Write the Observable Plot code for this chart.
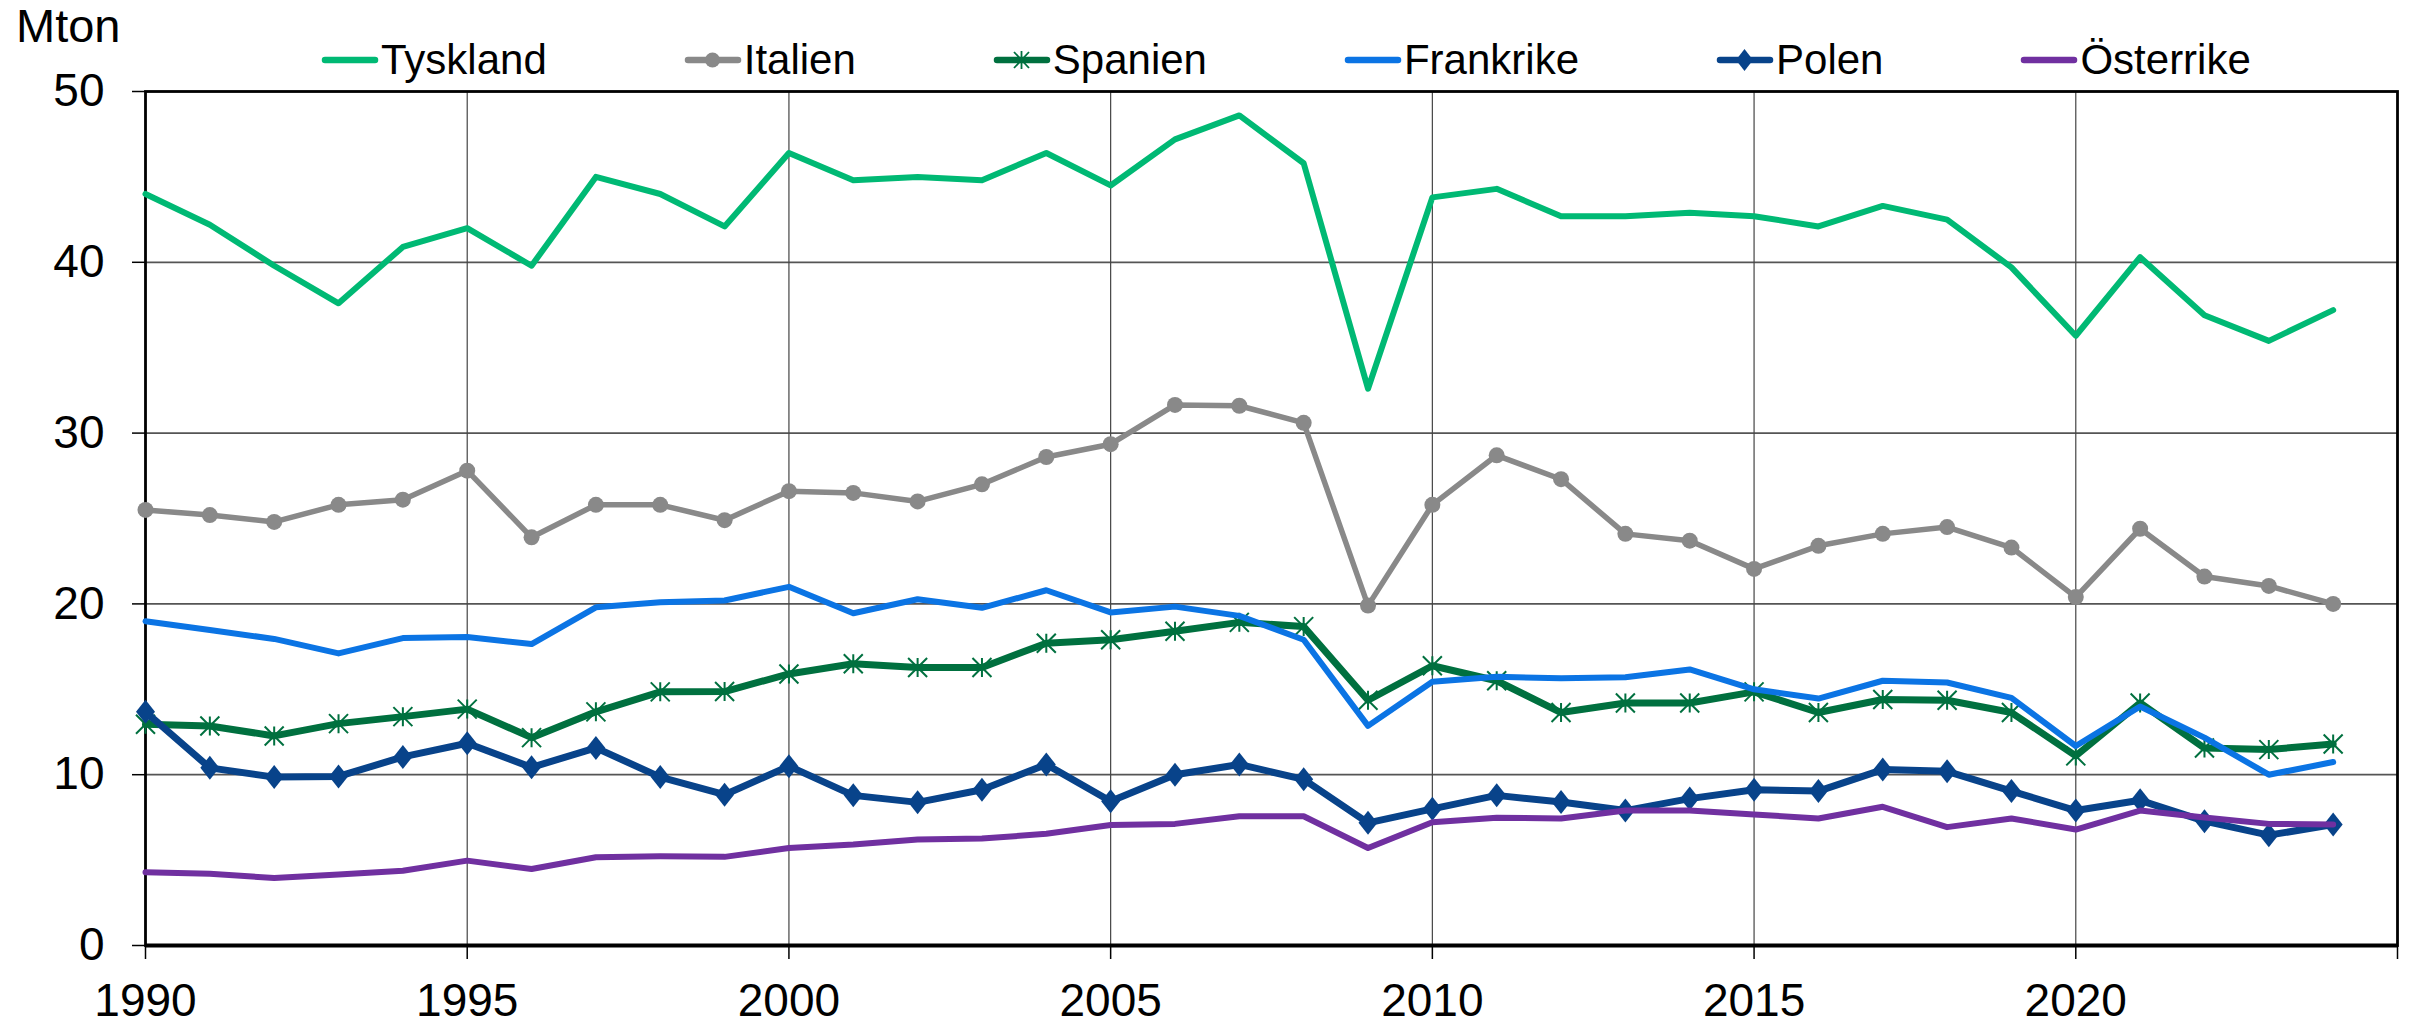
<!DOCTYPE html>
<html>
<head>
<meta charset="utf-8">
<script src="https://cdn.jsdelivr.net/npm/d3@7"></script>
<script src="https://cdn.jsdelivr.net/npm/@observablehq/plot@0.6"></script>
<style>
  html, body { margin: 0; padding: 0; background: white; }
  #wrap { position: relative; width: 2421px; height: 1025px; font-family: 'Liberation Sans', Arial, sans-serif; }
  #unit { position: absolute; left: 16px; top: 2px; font-size: 47px; line-height: 47px; color: black; }
  #legend { position: absolute; left: 321px; top: 39.4px; display: flex; gap: 137px; font-size: 42px; line-height: 42px; color: black; }
  #legend .item { display: flex; align-items: center; }
  #legend .item span { margin-left: 2px; }
</style>
</head>
<body>
<div id="wrap">
  <div id="unit">Mton</div>
  <div id="legend"></div>
</div>
<script>
const years = d3.range(1990, 2025);
const seriesNames = ["Tyskland", "Italien", "Spanien", "Frankrike", "Polen", "Österrike"];
const seriesColors = ["#00B974", "#898989", "#00703F", "#0B74E4", "#08438A", "#7030A0"];
const xTicks = [1990, 1995, 2000, 2005, 2010, 2015, 2020, 2025];
const yTicks = [0, 10, 20, 30, 40, 50];

const tyskland = [44.0, 42.2, 39.8, 37.6, 40.9, 42.0, 39.8, 45.0, 44.0, 42.1,
  46.4, 44.8, 45.0, 44.8, 46.4, 44.5, 47.2, 48.6, 45.8, 32.6,
  43.8, 44.3, 42.7, 42.7, 42.9, 42.7, 42.1, 43.3, 42.5, 39.7,
  35.7, 40.3, 36.9, 35.4, 37.2];
const italien = [25.5, 25.2, 24.8, 25.8, 26.1, 27.8, 23.9, 25.8, 25.8, 24.9,
  26.6, 26.5, 26.0, 27.0, 28.6, 29.35, 31.65, 31.6, 30.6, 19.9,
  25.8, 28.7, 27.3, 24.1, 23.7, 22.05, 23.4, 24.1, 24.5, 23.3,
  20.4, 24.4, 21.6, 21.05, 20.0];
const spanien = [12.95, 12.85, 12.27, 12.99, 13.4, 13.84, 12.17, 13.68, 14.85, 14.87,
  15.9, 16.5, 16.28, 16.28, 17.7, 17.9, 18.4, 18.92, 18.67, 14.36,
  16.38, 15.5, 13.64, 14.2, 14.2, 14.85, 13.64, 14.4, 14.36, 13.64,
  11.1, 14.2, 11.56, 11.47, 11.8];
const frankrike = [18.98, 18.47, 17.95, 17.1, 18.0, 18.06, 17.65, 19.8, 20.1, 20.2,
  21.0, 19.45, 20.27, 19.77, 20.8, 19.5, 19.84, 19.3, 17.9, 12.86,
  15.44, 15.73, 15.65, 15.7, 16.16, 15.0, 14.46, 15.5, 15.4, 14.5,
  11.68, 13.99, 12.17, 10.0, 10.74];
const polen = [13.68, 10.4, 9.86, 9.9, 11.04, 11.84, 10.43, 11.57, 9.86, 8.83,
  10.5, 8.79, 8.38, 9.12, 10.6, 8.45, 10.0, 10.6, 9.73, 7.18,
  8.0, 8.79, 8.4, 7.9, 8.6, 9.12, 9.04, 10.3, 10.2, 9.04,
  7.9, 8.5, 7.28, 6.46, 7.08];
const osterrike = [4.29, 4.2, 3.95, 4.15, 4.38, 4.97, 4.48, 5.17, 5.22, 5.19,
  5.71, 5.91, 6.2, 6.26, 6.54, 7.05, 7.12, 7.57, 7.57, 5.71,
  7.22, 7.48, 7.44, 7.9, 7.9, 7.67, 7.44, 8.12, 6.93, 7.44,
  6.79, 7.9, 7.5, 7.12, 7.08];

const seriesValues = [tyskland, italien, spanien, frankrike, polen, osterrike];
const table = seriesNames.map((name, i) =>
  years.map((year, j) => ({series: name, year, value: seriesValues[i][j]})));

// custom marker symbols
const diamondSymbol = {draw(ctx) { const w = 9.5, h = 12; ctx.moveTo(0, -h); ctx.lineTo(w, 0); ctx.lineTo(0, h); ctx.lineTo(-w, 0); ctx.closePath(); }};
const starSymbol = {draw(ctx) { const s = 9.5; ctx.moveTo(-s, -s); ctx.lineTo(s, s); ctx.moveTo(-s, s); ctx.lineTo(s, -s); ctx.moveTo(0, -s); ctx.lineTo(0, s); }};

const lineWidths = [6, 5.5, 7, 6, 7, 6];
const marks = [
  Plot.gridY({ticks: yTicks.filter(d => d > 0 && d < 50), stroke: "#555", strokeOpacity: 1, strokeWidth: 1.8}),
  Plot.gridX({ticks: xTicks.filter(d => d > 1990 && d < 2025), stroke: "#444", strokeOpacity: 1, strokeWidth: 1.2}),
  Plot.frame({stroke: "black", strokeWidth: 2.8}),
  Plot.ruleY([0], {stroke: "black", strokeWidth: 3.8}),
  Plot.axisY({ticks: yTicks, tickSize: 13, tickPadding: 28, label: null, fontSize: 46, tickFormat: d => String(d), strokeWidth: 1.5}),
  Plot.axisX({ticks: xTicks, tickSize: 14, tickPadding: 24, label: null, fontSize: 46, tickFormat: d => d < 2025 ? String(d) : "", strokeWidth: 1.5})
];
table.forEach((rows, i) => {
  marks.push(Plot.line(rows, {x: "year", y: "value", stroke: seriesColors[i], strokeWidth: lineWidths[i], strokeLinejoin: "round", strokeLinecap: "round"}));
  if (i === 1) marks.push(Plot.dot(rows, {x: "year", y: "value", symbol: "circle", r: 8, fill: seriesColors[i], stroke: "none"}));
  if (i === 2) marks.push(Plot.dot(rows, {x: "year", y: "value", symbol: starSymbol, fill: "none", stroke: seriesColors[i], strokeWidth: 2}));
  if (i === 4) marks.push(Plot.dot(rows, {x: "year", y: "value", symbol: diamondSymbol, fill: seriesColors[i], stroke: "none"}));
});

const chart = Plot.plot({
  width: 2421, height: 1025,
  marginTop: 91, marginLeft: 145, marginRight: 24, marginBottom: 80,
  x: {domain: [1990, 2025]},
  y: {domain: [0, 50]},
  style: {fontFamily: "'Liberation Sans', Arial, sans-serif", fontSize: "46px", color: "black", background: "white", overflow: "visible"},
  marks
});
const wrap = document.getElementById("wrap");
wrap.insertBefore(chart, wrap.firstChild);

// legend
const legend = document.getElementById("legend");
seriesNames.forEach((name, i) => {
  const item = document.createElement("div");
  item.className = "item";
  let marker = "";
  if (i === 1) marker = `<circle cx="28.5" cy="10" r="7.5" fill="${seriesColors[i]}"/>`;
  if (i === 2) marker = `<path d="M21,2L36,18M21,18L36,2M28.5,1L28.5,19" stroke="${seriesColors[i]}" stroke-width="1.8" fill="none"/>`;
  if (i === 4) marker = `<path d="M28.5,-1L37,10L28.5,21L20,10Z" fill="${seriesColors[i]}"/>`;
  item.innerHTML = `<svg width="58" height="20" style="overflow:visible"><line x1="4" y1="10" x2="54" y2="10" stroke="${seriesColors[i]}" stroke-width="6.5" stroke-linecap="round"/>${marker}</svg><span>${name}</span>`;
  legend.appendChild(item);
});
</script>
</body>
</html>
